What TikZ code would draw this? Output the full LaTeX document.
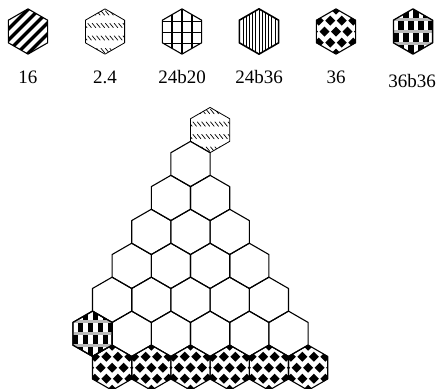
\documentclass[tikz,border=0pt]{standalone}
\usepackage{fontspec}
\setmainfont{Liberation Serif}

%% 六边形（尖顶）轮廓，以 (0,0) 为中心
\def\hexshape{(0,-22.63) -- (19.6,-11.32) -- (19.6,11.32) -- (0,22.63) -- (-19.6,11.32) -- (-19.6,-11.32) -- cycle}

\begin{document}
\begin{tikzpicture}[x=1pt, y=-1pt, line cap=round, line join=round,
  hexline/.style={line width=1.1pt},
  lbl/.style={inner sep=0pt, font=\fontsize{19}{23}\selectfont},
  hexplain/.pic={\draw[hexline] \hexshape;},
  hexsixteen/.pic={
    \begin{scope}
      \clip \hexshape;
      \foreach \k in {-44,-33,...,44}
        \draw[line width=3.5pt, line cap=butt] (\k-26,26) -- (\k+26,-26);
    \end{scope}
    \draw[hexline] \hexshape;},
  hextwofour/.pic={
    \begin{scope}
      \clip \hexshape;
      \foreach \yb in {-18.5,-6,6.5,19}
        \foreach \xs in {-19.8,-15.4,...,20}
          \draw[line width=0.7pt] (\xs-1.8,\yb-2.2) -- (\xs+1.8,\yb+2.2);
    \end{scope}
    \draw[line width=0.8pt] \hexshape;},
  hexgrid/.pic={
    \begin{scope}
      \clip \hexshape;
      \foreach \g in {-10,0,10}
        \draw[line width=1.2pt] (\g,-25) -- (\g,25);
      \foreach \g in {-10,1,12}
        \draw[line width=1.2pt] (-22,\g) -- (22,\g);
    \end{scope}
    \draw[hexline] \hexshape;},
  hexstripes/.pic={
    \begin{scope}
      \clip \hexshape;
      \foreach \g in {-19.2,-16,...,20}
        \draw[line width=0.9pt] (\g,-25) -- (\g,25);
    \end{scope}
    \draw[line width=1.6pt] \hexshape;},
  hexdiamonds/.pic={
    \begin{scope}
      \clip \hexshape;
      \foreach \j in {-2,...,2}
        \foreach \i in {-2,...,2} {
          \pgfmathsetmacro\dx{11.5*\i+mod(abs(\j),2)*5.75}
          \pgfmathsetmacro\dy{11*\j}
          \fill (\dx,\dy-5) -- (\dx+5,\dy) -- (\dx,\dy+5) -- (\dx-5,\dy) -- cycle;
        }
    \end{scope}
    \draw[hexline] \hexshape;},
  hexchecker/.pic={
    \begin{scope}
      \clip \hexshape;
      \foreach \j in {-2,...,1}
        \foreach \i in {-3,...,2} {
          \pgfmathsetmacro\dx{10*\i+mod(abs(\j),2)*5}
          \fill (\dx,12*\j+1) rectangle (\dx+5.5,12*\j+11);
        }
      \foreach \g in {-12,0,12}
        \fill[gray!55] (-22,\g-1.6) rectangle (22,\g+1.6);
    \end{scope}
    \draw[line width=1.3pt] \hexshape;}]

  %% ════ 图例 ════
  \pic at (28,31.5)  {hexsixteen};
  \pic at (105,31.5) {hextwofour};
  \pic at (182,31.5) {hexgrid};
  \pic at (259,31.5) {hexstripes};
  \pic at (336,31.5) {hexdiamonds};
  \pic at (413,31.5) {hexchecker};

  \node[lbl] (l16)    at (28,77)  {16};
  \node[lbl] (l24)    at (105,77) {2.4};
  \node[lbl] (l24b20) at (182,77) {24b20};
  \node[lbl] (l24b36) at (259,77) {24b36};
  \node[lbl] (l36)    at (336,77) {36};
  \node[lbl] (l36b36) at (412,81) {36b36};

  %% ════ 三角形堆叠：空白格 ════
  \foreach \r in {0,...,5}
    \foreach \c in {0,...,\r}
      \pic at ({190.5+(\c-\r/2)*39.2},{164+\r*33.95}) {hexplain};

  %% ════ 带图案的格 ════
  \pic at (210.1,130.05) {hextwofour};
  \foreach \c in {0,...,5}
    \pic at ({112.1+\c*39.2},367.7) {hexdiamonds};
  \pic at (92.5,333.75) {hexchecker};

  % 钉死画布
  \pgfresetboundingbox
  \path[use as bounding box] (0,0) rectangle (440,389);
\end{tikzpicture}
\end{document}
